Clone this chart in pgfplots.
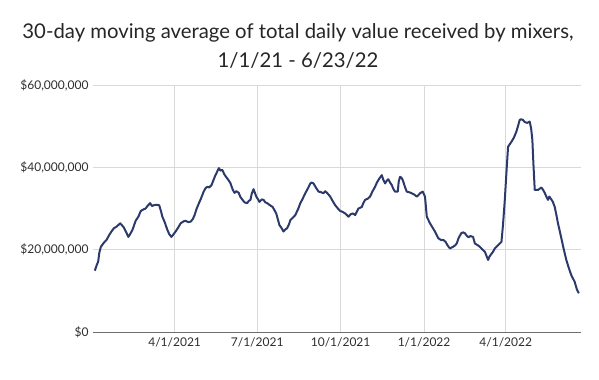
\documentclass[border=0pt]{standalone}
\usepackage{fontspec}
\setmainfont{Lato}
\usepackage{pgfplots}
\pgfplotsset{compat=1.18}
\definecolor{linenavy}{HTML}{2B3A6B}
\definecolor{gridgray}{HTML}{D9D9D9}
\definecolor{axisgray}{HTML}{6E6E6E}
\definecolor{labelgray}{HTML}{2E2E2E}
\begin{document}
\begin{tikzpicture}
\path[use as bounding box] (0,0) rectangle (599bp,380bp);
\node[font=\fontsize{20.3bp}{24bp}\selectfont, text=black!85] at (298bp,347bp) {30-day moving average of total daily value received by mixers,};
\node[font=\fontsize{20.3bp}{24bp}\selectfont, text=black!85] at (298bp,320bp) {1/1/21 - 6/23/22};
\begin{axis}[
  at={(93bp,48bp)}, anchor=south west,
  scale only axis, width=488bp, height=247bp,
  xmin=0, xmax=538, ymin=0, ymax=60,
  axis lines=left,
  axis line style={draw=none},
  xtick={90,181,273,365,455},
  xticklabels={4/1/2021,7/1/2021,10/1/2021,1/1/2022,4/1/2022},
  ytick={0,20,40,60},
  yticklabels={{\$0},{\$20,000,000},{\$40,000,000},{\$60,000,000}},
  tick label style={font=\fontsize{12bp}{14bp}\selectfont, text=labelgray},
  xticklabel style={yshift=-2bp},
  yticklabel style={xshift=-1bp},
  major tick length=0pt,
  grid=major,
  major grid style={gridgray, line width=0.8bp},
  clip=false,
]
% zero line drawn over the grid
\draw[axisgray, line width=1bp] (axis cs:0,0) -- (axis cs:538,0);
\addplot[linenavy, line width=2bp, line join=round] coordinates {
(2,14.9) (4,16.2) (5.7,17.1) (7,19.3) (8.7,20.7) (12,21.7) (15,22.4) (18,23.6) (20,24.3) (23,25.2)
(26,25.6) (30,26.4) (32,25.9) (34,25.4) (36,24.5) (39,23.1) (41,23.8) (43.5,24.8) (47,27.0) (50,28.0)
(52.7,29.4) (55,29.7) (58,30.0) (60,30.6) (63,31.3) (65,30.6) (67,30.8) (70,30.9) (73,30.8) (75,29.3)
(76.5,28.0) (79,26.7) (82,24.8) (84,23.8) (86.4,23.1) (89,23.8) (91,24.4) (94,25.4) (96.6,26.4) (100,26.9)
(102,27.0) (105,26.7) (107.6,26.8) (110,27.4) (112,28.4) (114,29.8) (116.8,31.3) (119,32.4) (122,34.1) (124,34.9)
(126,35.3) (128,35.1) (130.7,35.7) (133,37.0) (135,38.1) (137,39.0) (138.8,39.8) (140.5,39.2) (142.5,39.4) (145,38.2)
(148,37.3) (150,36.7) (151.6,36.1) (154,34.6) (156,33.8) (158,34.2) (160.7,33.8) (162.5,32.8) (164.5,32.2) (167,31.5)
(170,31.3) (172,31.9) (173.6,32.1) (175,33.6) (177,34.7) (178.5,33.8) (180,32.9) (182,32.2) (183.5,31.6) (186,32.2)
(188,32.1) (190,31.5) (192,31.3) (195,30.8) (198,30.4) (200,29.6) (202,28.8) (204,27.2) (205.5,26.0) (208,25.2)
(210,24.4) (212,24.9) (214,25.2) (216,26.1) (217.6,27.2) (220,27.7) (223,28.4) (226,29.8) (228.6,31.3) (231,32.3)
(234,33.7) (237,34.9) (239.6,36.1) (241,36.3) (243,36.1) (246,35.0) (248.7,34.1) (251,34.0) (254,33.7) (256,34.2)
(258,33.8) (261.5,32.9) (264,31.9) (267,30.8) (270,30.0) (272.5,29.4) (275,29.2) (278,28.8) (280,28.4) (281.7,28.0)
(284,28.6) (286.5,28.8) (289,28.4) (291,29.3) (292.7,30.0) (296.4,30.4) (298,31.3) (300,32.1) (303,32.4) (305.5,32.9)
(308,34.1) (311,35.3) (313,36.3) (315.7,37.3) (318.4,38.1) (320,37.0) (322,36.1) (324,36.8) (325.6,37.1) (327.5,36.3)
(329.4,35.7) (331,34.8) (333,34.1) (336,34.1) (337,36.5) (338.5,37.7) (340,37.5) (341.5,36.9) (344,35.2) (345.9,34.1)
(348,34.0) (351.4,33.7) (354,33.4) (357,32.9) (359,33.3) (360.5,33.7) (363.5,34.1) (366,32.9) (367,30.5) (368,28.0)
(371.5,26.4) (374,25.5) (377,24.4) (379,23.5) (380.6,22.8) (384,22.3) (386,22.4) (388.7,21.9) (391,21.0) (393.5,20.3)
(397,20.7) (399,21.0) (401,21.5) (403,22.8) (406,24.0) (408,24.2) (410,24.0) (412,23.4) (414,23.0) (416,23.3)
(419,23.1) (421,21.5) (424,21.1) (426.5,20.7) (429,20.1) (432,19.5) (434,18.4) (435.6,17.5) (437,18.3) (439,18.9)
(441,19.5) (443,20.3) (446.6,21.1) (450.3,21.9) (452,26.0) (454,32.1) (456,39.5) (457.6,45.0) (461.3,46.2) (464,47.2)
(466.8,48.7) (468.5,50.0) (470.4,51.5) (472,51.7) (474,51.5) (476,51.0) (478.5,50.8) (481.4,51.1) (483,49.5) (484.4,46.6)
(485.5,41.0) (487,34.5) (490.5,34.5) (494.3,35.1) (496,34.6) (498,33.8) (500,32.8) (501.6,32.1) (503,32.9) (505.3,32.2)
(507,31.6) (509,30.4) (510.8,28.5) (512.6,26.4) (514.5,24.6) (516.3,22.8) (519,20.1) (521.8,17.5) (524.5,15.6) (527.3,13.8)
(531,12.2) (533.4,10.4) (535.6,9.4)
};
\end{axis}
\end{tikzpicture}
\end{document}
